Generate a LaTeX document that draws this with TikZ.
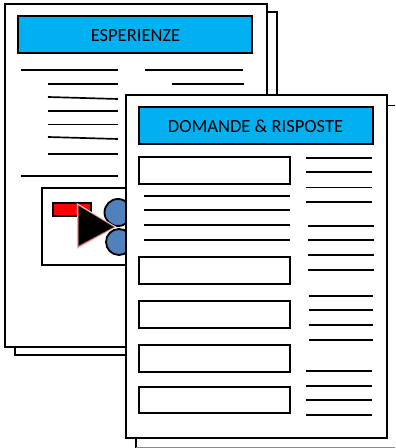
\documentclass[tikz,border=0pt]{standalone}
\usepackage{fontspec}
\setmainfont{Carlito}
\definecolor{hdr}{HTML}{00B0F0}
\definecolor{circ}{HTML}{4F81BD}
\tikzset{
 x=0.75pt,y=-0.75pt,
 page/.style={draw=black,fill=white,line width=1.5pt},
 hdrbox/.style={draw=black,fill=hdr,line width=1.5pt,outer sep=0pt,inner sep=0pt,anchor=north west,minimum width=175.6pt,minimum height=27.75pt},
 qbox/.style={draw=black,fill=white,line width=1.5pt},
 rule/.style={draw=black,line width=1.25pt},
 title/.style={font=\fontsize{13.9}{15}\selectfont,text=black,inner sep=0pt}
}
\newcommand{\rules}[3]{\foreach \yy in {#3}{\draw[rule] (#1,\yy) -- (#2,\yy);}}
\begin{document}
\begin{tikzpicture}
\useasboundingbox (0,0) rectangle (395,448);
% first document
\draw[page] (15,12) rectangle (277,355);
\draw[page] (4.5,4.5) rectangle (267,347);
\node[hdrbox] (h1) at (18,16) {};
\node[title] (t1) at (135.5,35.5) {ESPERIENZE};
\draw[rule] (21,70) -- (118,70);
\draw[rule] (145,70) -- (243,70);
\rules{48}{118}{84,111,124.5,154}
\draw[rule] (172,84) -- (244,84);
\draw[rule] (48,97) -- (118,99);
\draw[rule] (48,137) -- (118,139);
\draw[rule] (21,176) -- (118,176);
\draw[draw=black,fill=white,line width=1.25pt] (42,188) rectangle (140,265);
\draw[draw=black,fill=red,line width=1.4pt] (53,203) rectangle (91,216);
\draw[draw=black,fill=circ,line width=1.4pt] (118,212.5) circle[radius=13.5];
\draw[draw=black,fill=circ,line width=1.4pt] (119,242) circle[radius=13];
\fill[red!15!white] (76.8,203) -- (76.8,249.5) -- (116.5,227) -- cycle;
\fill[red!55!black!60!white] (77.6,204.5) -- (77.6,247.5) -- (115,227) -- cycle;
\fill[black] (78.6,206) -- (78.6,245.5) -- (113.5,227) -- cycle;
% second document
\draw[draw=black,line width=1.25pt] (136,448) -- (136,430);
\draw[draw=black!45,line width=1pt] (136,447.3) -- (395,447.3);
\draw[draw=black,line width=1.25pt] (380,105.5) -- (395,105.5);
\draw[page] (125.5,95.5) rectangle (387,438);
\node[hdrbox] (h2) at (139,107) {};
\node[title] (t2) at (255.5,126.5) {DOMANDE \& RISPOSTE};
\foreach \ya/\yb in {157/184,257/283.5,301/328,345/372,387/413}{
 \draw[qbox] (139,\ya) rectangle (290,\yb);
}
\rules{144}{290}{196,210,225,240}
\rules{306}{372}{158,172,187.5,202}
\rules{308}{374}{226,240,255,270}
\rules{308.5}{373}{296,310,325,340}
\rules{306}{372}{371,386,400,415}
\end{tikzpicture}
\end{document}
